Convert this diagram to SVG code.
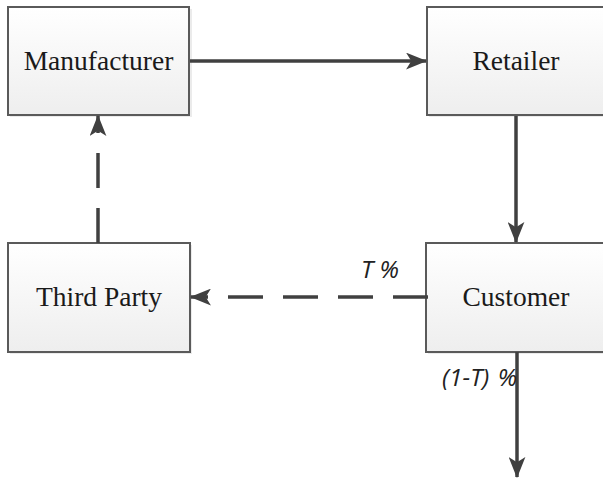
<svg xmlns="http://www.w3.org/2000/svg" width="603" height="479" viewBox="0 0 603 479">
<style>
.box{fill:url(#g);stroke:#5a5a5a;stroke-width:2}
.shadow{fill:#d8d8d8;opacity:0.5}
.lbl{font-family:"Liberation Serif","Times New Roman",serif;font-size:27.5px;fill:#1a1a1a;text-anchor:middle}
.pct{font-family:"Open Sans","Liberation Sans",sans-serif;font-style:italic;font-size:24.5px;fill:#222}
.ln{stroke:#404040;stroke-width:3.5;fill:none}
.dash{stroke-dasharray:35 20}
</style>
<defs>
<linearGradient id="g" x1="0" y1="0" x2="0" y2="1">
<stop offset="0" stop-color="#ffffff"/>
<stop offset="1" stop-color="#eeeeee"/>
</linearGradient>
<marker id="ah" viewBox="0 0 20 16" refX="19" refY="8" markerWidth="21" markerHeight="17" markerUnits="userSpaceOnUse" orient="auto">
<path d="M0,0 L20,8 L0,16 L5,8 Z" fill="#404040"/>
</marker>
</defs>
<g id="manufacturer">
<rect class="shadow" x="10" y="9" width="182" height="108"/>
<rect class="box" x="8" y="7" width="181" height="108"/>
<text class="lbl" x="98.5" y="70">Manufacturer</text>
</g>
<g id="retailer">
<rect class="shadow" x="429" y="9" width="180" height="108"/>
<rect class="box" x="427" y="7" width="180" height="108"/>
<text class="lbl" x="516" y="70">Retailer</text>
</g>
<g id="third-party">
<rect class="shadow" x="10" y="245" width="182" height="109"/>
<rect class="box" x="8" y="243" width="182" height="109"/>
<text class="lbl" x="99" y="306">Third Party</text>
</g>
<g id="customer">
<rect class="shadow" x="428" y="245" width="180" height="109"/>
<rect class="box" x="426" y="243" width="180" height="109"/>
<text class="lbl" x="516" y="306">Customer</text>
</g>
<g id="connectors">
<line class="ln" x1="190" y1="61" x2="426" y2="61" marker-end="url(#ah)"/>
<line class="ln" x1="516" y1="116" x2="516" y2="242" marker-end="url(#ah)"/>
<line class="ln dash" x1="428" y1="297" x2="191" y2="297" marker-end="url(#ah)"/>
<line class="ln dash" x1="98" y1="243" x2="98" y2="116" marker-end="url(#ah)"/>
<line class="ln" x1="517" y1="352" x2="517" y2="477" marker-end="url(#ah)"/>
<text class="pct" x="361" y="278">T %</text>
<text class="pct" x="442" y="386" word-spacing="2">(1-T) %</text>
</g>
</svg>
